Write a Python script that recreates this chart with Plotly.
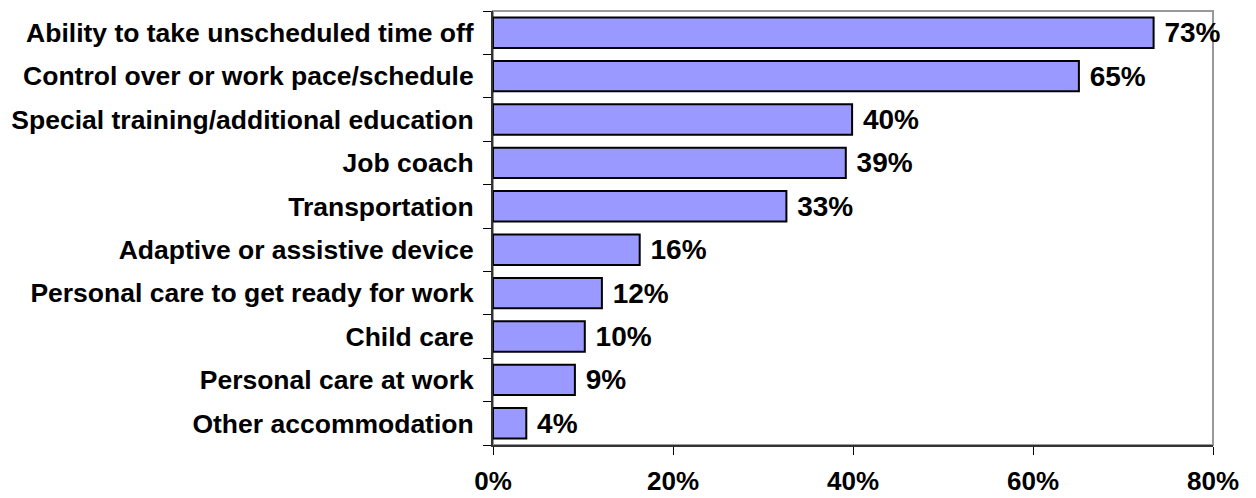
import plotly.graph_objects as go

categories = [
    "Ability to take unscheduled time off",
    "Control over or work pace/schedule",
    "Special training/additional education",
    "Job coach",
    "Transportation",
    "Adaptive or assistive device",
    "Personal care to get ready for work",
    "Child care",
    "Personal care at work",
    "Other accommodation",
]
values = [73.4, 65.1, 39.9, 39.2, 32.6, 16.3, 12.1, 10.2, 9.1, 3.7]
x_ticks = [0, 20, 40, 60, 80]
x_tick_labels = ["0%", "20%", "40%", "60%", "80%"]

FONT = "Liberation Sans, Arial, sans-serif"

fig = go.Figure()
fig.add_trace(go.Bar(
    y=categories,
    x=values,
    orientation="h",
    marker=dict(color="#9999FF", line=dict(color="#000000", width=2)),
    width=0.7,
    texttemplate=" %{x:.0f}%",
    textposition="outside",
    textfont=dict(family=FONT, size=28, color="#000000", weight="bold"),
    cliponaxis=False,
    constraintext="none",
    hoverinfo="skip",
))

fig.add_shape(type="rect", xref="paper", yref="paper", x0=0, x1=1, y0=0, y1=1,
              line=dict(color="#999999", width=2), layer="below")

fig.update_layout(
    width=1256, height=498,
    margin=dict(l=493, r=43, t=11, b=53),
    plot_bgcolor="white", paper_bgcolor="white",
    showlegend=False,
    bargap=0.3,
    font=dict(family=FONT, color="#000000"),
    xaxis=dict(
        range=[0, 80],
        tickvals=x_ticks, ticktext=x_tick_labels,
        ticks="outside", ticklen=8, tickwidth=1, tickcolor="#000000",
        showgrid=False, zeroline=False,
        showline=True, linecolor="#333333", linewidth=2,
        tickfont=dict(family=FONT, size=26, color="#000000", weight="bold"),
        ticklabelstandoff=4,
        automargin=False,
        fixedrange=True,
    ),
    yaxis=dict(
        categoryorder="array", categoryarray=categories[::-1],
        tickson="boundaries",
        ticks="outside", ticklen=8, tickwidth=1, tickcolor="#000000",
        showgrid=False, zeroline=False,
        showline=True, linecolor="#333333", linewidth=2,
        tickfont=dict(family=FONT, size=26.5, color="#000000", weight="bold"),
        ticklabelstandoff=12,
        automargin=False,
        fixedrange=True,
    ),
)

fig.write_html(
    "out.html",
    config={"displayModeBar": False, "staticPlot": True},
    post_script="document.body.style.margin='0';document.body.style.overflow='hidden';",
)
